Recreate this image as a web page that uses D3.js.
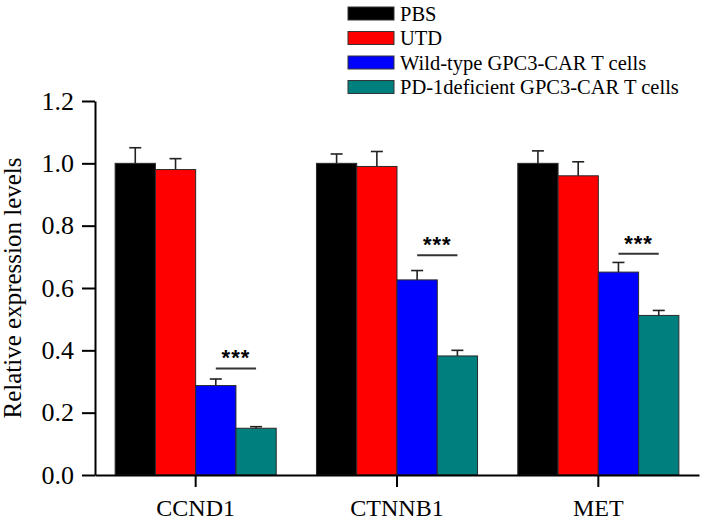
<!DOCTYPE html>
<html>
<head>
<meta charset="utf-8">
<script src="https://cdn.jsdelivr.net/npm/d3@7"></script>
<style>
  html, body { margin: 0; padding: 0; background: #fff; }
  svg { display: block; }
  text { font-family: "Liberation Serif", "Times New Roman", serif; fill: #000; }
</style>
</head>
<body>
<svg id="chart" width="702" height="523"></svg>
<script>
// ---- data ----
const categories = ["CCND1", "CTNNB1", "MET"];
const seriesNames = ["PBS", "UTD", "Wild-type GPC3-CAR T cells", "PD-1deficient GPC3-CAR T cells"];
const pbsValues = [1.00, 1.00, 1.00];
const pbsErrors = [0.050, 0.030, 0.040];
const utdValues = [0.98, 0.99, 0.96];
const utdErrors = [0.035, 0.048, 0.045];
const wildTypeValues = [0.287, 0.626, 0.651];
const wildTypeErrors = [0.021, 0.030, 0.031];
const pd1DeficientValues = [0.150, 0.382, 0.512];
const pd1DeficientErrors = [0.005, 0.018, 0.016];
const significanceLevels = [0.342, 0.705, 0.710];
const significanceLabels = ["***", "***", "***"];
const yTickValues = [0.0, 0.2, 0.4, 0.6, 0.8, 1.0, 1.2];
const seriesColors = ["#000000", "#ff0000", "#0000ff", "#007f7f"];
const yTitle = "Relative expression levels";

const seriesValues = [pbsValues, utdValues, wildTypeValues, pd1DeficientValues];
const seriesErrors = [pbsErrors, utdErrors, wildTypeErrors, pd1DeficientErrors];

// ---- layout ----
const svg = d3.select("#chart");
const plotLeft = 95, plotRight = 699, plotTop = 101, plotBottom = 475;

const y = d3.scaleLinear().domain([0, 1.2]).range([plotBottom, plotTop]);
const x0 = d3.scaleBand().domain(categories).range([plotLeft, plotRight]).paddingInner(0.2).paddingOuter(0.1);
const x1 = d3.scaleBand().domain(d3.range(seriesNames.length)).range([0, x0.bandwidth()]);

// table built from arrays
const rows = [];
categories.forEach((c, ci) => {
  seriesNames.forEach((s, si) => {
    rows.push({ cat: c, ci, si, value: seriesValues[si][ci], err: seriesErrors[si][ci] });
  });
});

// bars
svg.append("g").selectAll("rect").data(rows).join("rect")
  .attr("x", d => x0(d.cat) + x1(d.si))
  .attr("y", d => y(d.value))
  .attr("width", x1.bandwidth())
  .attr("height", d => y(0) - y(d.value))
  .attr("fill", d => seriesColors[d.si])
  .attr("stroke", "#2a2a2a")
  .attr("stroke-width", 1);

// error bars (upper only)
const eg = svg.append("g").attr("stroke", "#222").attr("stroke-width", 1.6);
rows.forEach(d => {
  const cx = x0(d.cat) + x1(d.si) + x1.bandwidth() / 2;
  eg.append("line").attr("x1", cx).attr("x2", cx).attr("y1", y(d.value)).attr("y2", y(d.value + d.err));
  eg.append("line").attr("x1", cx - 6).attr("x2", cx + 6).attr("y1", y(d.value + d.err)).attr("y2", y(d.value + d.err));
});

// significance marks
categories.forEach((c, ci) => {
  const xa = x0(c) + x1(2) + x1.bandwidth() / 2;
  const xb = x0(c) + x1(3) + x1.bandwidth() / 2;
  const yy = y(significanceLevels[ci]);
  svg.append("line").attr("x1", xa).attr("x2", xb).attr("y1", yy).attr("y2", yy)
    .attr("stroke", "#333").attr("stroke-width", 2);
  svg.append("text").attr("x", (xa + xb) / 2).attr("y", yy - 3)
    .attr("text-anchor", "middle")
    .style("font-family", "'Liberation Sans', Arial, sans-serif")
    .style("font-size", "22px").style("font-weight", "bold").style("letter-spacing", "1px")
    .text(significanceLabels[ci]);
});

// y axis
const yAxis = svg.append("g").attr("transform", `translate(${plotLeft},0)`)
  .call(d3.axisLeft(y).tickValues(yTickValues).tickFormat(d3.format(".1f")).tickSize(13).tickPadding(8).tickSizeOuter(0));
yAxis.select(".domain").attr("stroke", "#000").attr("stroke-width", 2);
yAxis.selectAll(".tick line").attr("stroke", "#000").attr("stroke-width", 2);
yAxis.selectAll(".tick text").style("font-size", "26px").style("font-family", "'Liberation Serif', serif");

// x axis
const xAxis = svg.append("g").attr("transform", `translate(0,${plotBottom})`)
  .call(d3.axisBottom(x0).tickSize(12).tickPadding(12).tickSizeOuter(0));
xAxis.select(".domain").attr("stroke", "#000").attr("stroke-width", 2);
xAxis.selectAll(".tick line").attr("stroke", "#000").attr("stroke-width", 2);
xAxis.selectAll(".tick text").style("font-size", "24px").style("font-family", "'Liberation Serif', serif");

// y title
svg.append("text")
  .attr("transform", `translate(15,${(plotTop + plotBottom) / 2}) rotate(-90)`)
  .attr("text-anchor", "middle")
  .attr("dominant-baseline", "middle")
  .style("font-size", "25px")
  .text(yTitle);

// legend
const lg = svg.append("g").attr("transform", "translate(348,7)");
seriesNames.forEach((s, i) => {
  const g = lg.append("g").attr("transform", `translate(0,${i * 24.5})`);
  g.append("rect").attr("width", 46).attr("height", 13)
    .attr("fill", seriesColors[i]).attr("stroke", "#333").attr("stroke-width", 1);
  g.append("text").attr("x", 52).attr("y", 13.5).style("font-size", "20.5px").text(s);
});
</script>
</body>
</html>
